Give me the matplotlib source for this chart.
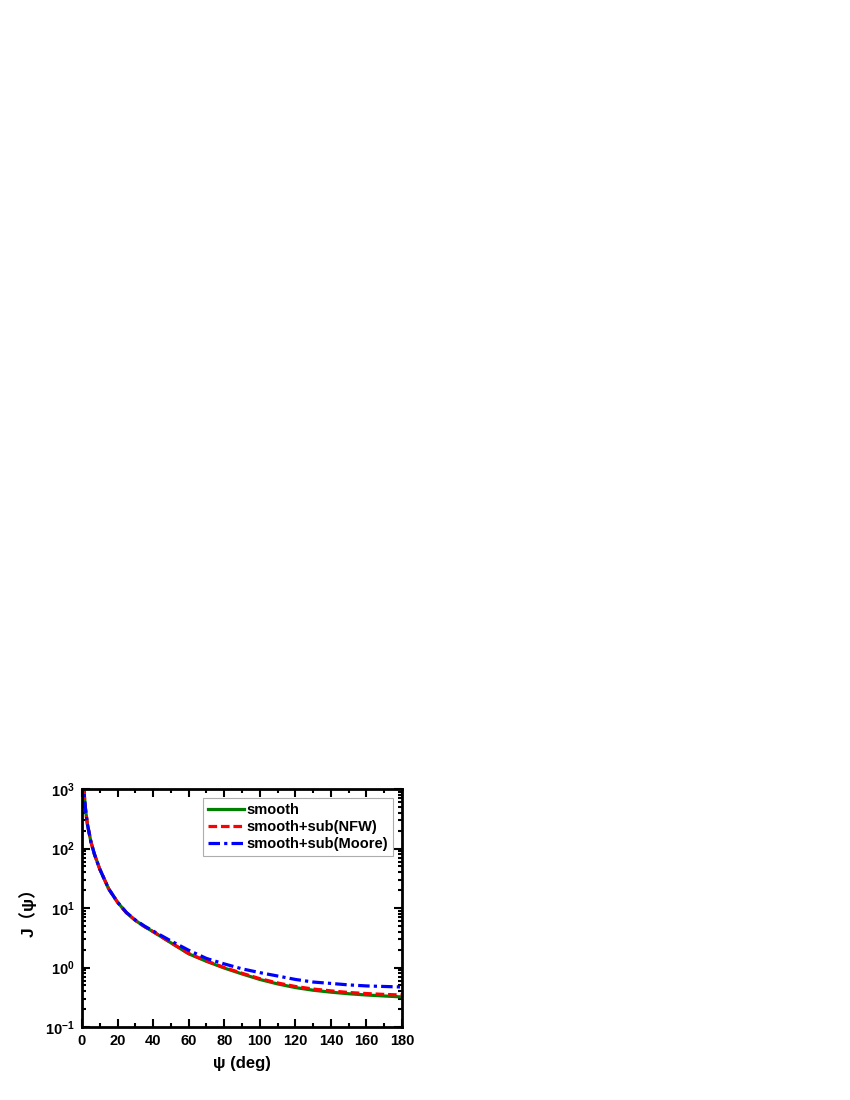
import matplotlib
matplotlib.use("Agg")
import matplotlib.pyplot as plt
from matplotlib.ticker import MultipleLocator, LogLocator, NullFormatter

psi = [0.5, 1, 2, 3, 5, 7, 10, 15, 20, 25, 30, 35, 40, 50, 60, 70, 80, 90,
       100, 110, 120, 130, 140, 150, 160, 170, 180]
j_smooth = [1500, 1000, 450, 260, 130, 80, 45, 21, 12.5, 8.3, 6.2, 4.9, 4.0, 2.6,
            1.7, 1.27, 0.98, 0.78, 0.63, 0.53, 0.46, 0.415, 0.385, 0.362, 0.345,
            0.332, 0.32]
j_nfw = [1500, 1000, 450, 260, 130, 80, 45, 21, 12.5, 8.3, 6.2, 4.9, 4.0, 2.62,
         1.72, 1.29, 1.0, 0.80, 0.65, 0.55, 0.48, 0.435, 0.405, 0.38, 0.365,
         0.353, 0.345]
j_moore = [1500, 1000, 450, 260, 130, 80, 45, 21, 12.5, 8.4, 6.3, 5.0, 4.1, 2.8,
           1.95, 1.42, 1.15, 0.95, 0.82, 0.72, 0.63, 0.57, 0.54, 0.51, 0.49,
           0.48, 0.47]

plt.rcParams['font.family'] = ['Liberation Sans', 'DejaVu Sans']
plt.rcParams['axes.unicode_minus'] = False
fig = plt.figure(figsize=(8.5, 11), dpi=100)
ax = fig.add_axes([82 / 850, 1 - 1027 / 1100, 320 / 850, 238 / 1100])

ax.plot(psi, j_smooth, color='#008000', lw=2.3, ls='-', label='smooth')
ax.plot(psi, j_nfw, color='#ff0000', lw=2.3, ls=(0, (2.7, 1.2)),
        label='smooth+sub(NFW)')
ax.plot(psi, j_moore, color='#0000ff', lw=2.3, ls=(0, (3.6, 1.3, 1.0, 1.3)),
        label='smooth+sub(Moore)')

ax.set_yscale('log')
ax.set_xlim(0, 180)
ax.set_ylim(0.1, 1000)
ax.xaxis.set_major_locator(MultipleLocator(20))
ax.xaxis.set_minor_locator(MultipleLocator(10))
ax.yaxis.set_major_locator(LogLocator(base=10, numticks=10))
ax.yaxis.set_minor_locator(LogLocator(base=10, subs=range(2, 10), numticks=10))
ax.yaxis.set_minor_formatter(NullFormatter())

ax.tick_params(which='both', direction='in', top=True, right=True, width=1.5)
ax.tick_params(which='major', length=5.5, labelsize=10.5, pad=5)
ax.tick_params(which='minor', length=3)
for lab in ax.get_xticklabels() + ax.get_yticklabels():
    lab.set_fontweight('bold')
for s in ax.spines.values():
    s.set_linewidth(2)

ax.set_xlabel('ψ (deg)', fontsize=12, fontweight='bold', labelpad=6)
ax.set_ylabel('J（ψ）', fontsize=12.5, fontweight='bold', labelpad=6,
              family=['Liberation Sans', 'Noto Sans CJK SC'])

leg = ax.legend(loc='upper right', prop={'weight': 'bold', 'size': 10.5},
                frameon=True, fancybox=False, edgecolor='#999999',
                handlelength=2.5, handletextpad=0.15, borderpad=0.35,
                labelspacing=0.2, borderaxespad=0.6)
leg.get_frame().set_linewidth(0.8)

fig.savefig('out.png', dpi=100)
